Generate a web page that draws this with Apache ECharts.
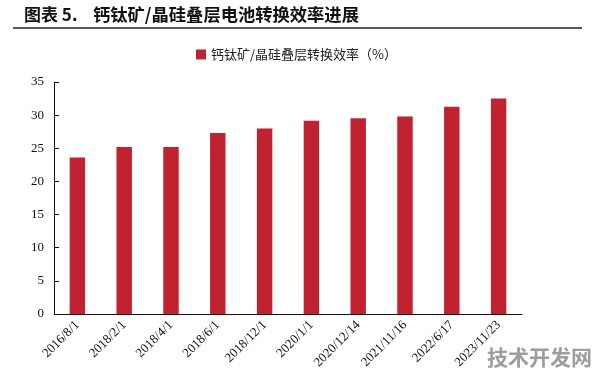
<!DOCTYPE html>
<html><head><meta charset="utf-8">
<script src="https://cdn.jsdelivr.net/npm/echarts@6/dist/echarts.min.js"></script>
<style>html,body{margin:0;padding:0;background:#fff}#c{width:596px;height:382px}</style>
</head><body><div id="c"></div>
<script>
const categories = ['2016/8/1','2018/2/1','2018/4/1','2018/6/1','2018/12/1','2020/1/1','2020/12/14','2021/11/16','2022/6/17','2023/11/23'];
const efficiency = [23.6, 25.2, 25.2, 27.3, 28.0, 29.15, 29.52, 29.8, 31.25, 32.5];
const seriesName = '钙钛矿/晶硅叠层转换效率（%）';
const titleLabel = '图表 5.';
const titleText = '钙钛矿/晶硅叠层电池转换效率进展';

const chart = echarts.init(document.getElementById('c'));
chart.setOption({
  animation: false,
  backgroundColor: '#fff',
  graphic: [
    {type:'text', left: 24, top: 6, style:{text: titleLabel, font:'bold 17px "Noto Sans CJK SC"', fill:'#111'}},
    {type:'text', left: 93, top: 6, style:{text: titleText, font:'bold 17.3px "Noto Sans CJK SC"', fill:'#111'}},
    {type:'line', shape:{x1:13, y1:28, x2:582, y2:28}, style:{stroke:'#222', lineWidth:1.5}},
    {type:'text', left: 487, top: 347, z: 100, style:{text:'技术开发网', font:'bold 21px "Noto Sans CJK SC"', fill:'rgba(140,140,140,0.85)'}}
  ],
  legend: {
    left: 196, top: 48, padding: 0, itemWidth: 10, itemHeight: 10, itemGap: 5, icon: 'rect',
    textStyle: {fontFamily: '"Noto Sans CJK SC"', fontSize: 13, color: '#222', padding: [0,0,0,0]},
    data: [seriesName]
  },
  grid: {left: 54, right: 74, top: 82, bottom: 68},
  xAxis: {
    type: 'category', data: categories,
    axisLine: {lineStyle: {color: '#111', width: 1}},
    axisTick: {show: false},
    axisLabel: {rotate: 45, fontFamily: '"Liberation Serif"', fontSize: 13, color: '#111', interval: 0, margin: 9}
  },
  yAxis: {
    type: 'value', min: 0, max: 35, interval: 5,
    axisLine: {show: true, lineStyle: {color: '#111', width: 1}},
    axisTick: {show: true, inside: true, length: 5, lineStyle: {color: '#111'}},
    splitLine: {show: false},
    axisLabel: {fontFamily: '"Liberation Serif"', fontSize: 13, color: '#111', margin: 10}
  },
  series: [{
    name: seriesName, type: 'bar', data: efficiency, barWidth: '33%',
    itemStyle: {color: '#C0232F'}
  }]
});
</script></body></html>
